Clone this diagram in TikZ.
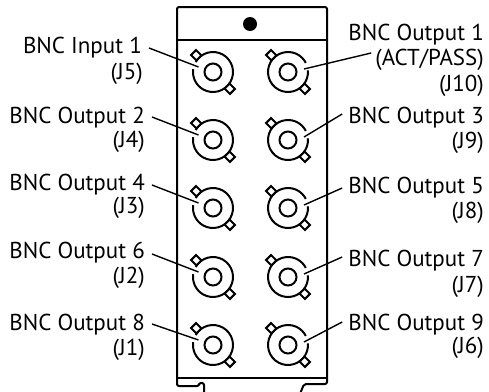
\documentclass[tikz,border=0pt]{standalone}
\usepackage{fontspec}
\setmainfont{PT Sans}
\usepackage{tikz}
\usetikzlibrary{calc}

\tikzset{
  panel/.style={line width=2pt, line join=round},
  conn/.style={line width=2pt},
  leader/.style={line width=1.4pt},
  lbl/.style={inner sep=0pt, font=\fontsize{23}{26}\selectfont},
  lbll/.style={lbl, anchor=base east},
  lblr/.style={lbl, anchor=base east},
  pics/bnc/.style={code={
    \draw[conn] (0,0) circle (8.5);
    \draw[conn] (#1:20) arc[start angle=#1, delta angle=338, radius=20];
    \draw[conn, fill=white, rotate=135] (20,-3.5) rectangle (27.5,3.5);
    \draw[conn, fill=white, rotate=-45] (20,-3.5) rectangle (27.5,3.5);
  }}
}

\begin{document}
\begin{tikzpicture}[x=1pt,y=-1pt]
    \useasboundingbox (0,0) rectangle (489,391);
    % Panel
    \draw[panel, rounded corners=2pt] (204,394) -- (204,383) -- (199,383) -- (199,386)
        -- (177,386) -- (177,7) -- (327,7) -- (327,384) -- (304,384) -- (300,394);
    \draw[panel] (177,40) -- (327,40);
    \draw[panel] (177,378) -- (327,378);
    \fill (250,24) circle (7);
    %
    % Connectors
    \coordinate (j5) at (213,72);
    \coordinate (j4) at (213,140);
    \coordinate (j3) at (213,208);
    \coordinate (j2) at (213,277);
    \coordinate (j1) at (213,345);
    \coordinate (j10) at (288,72);
    \coordinate (j9) at (288,140);
    \coordinate (j8) at (288,208);
    \coordinate (j7) at (288,277);
    \coordinate (j6) at (288,345);
    \pic at (j5) {bnc=210};
    \pic at (j4) {bnc=210};
    \pic at (j3) {bnc=210};
    \pic at (j2) {bnc=210};
    \pic at (j1) {bnc=210};
    \pic at (j10) {bnc=355};
    \pic at (j9) {bnc=355};
    \pic at (j8) {bnc=355};
    \pic at (j7) {bnc=355};
    \pic at (j6) {bnc=355};
    %
    % Labels, left column
    \node[lbll] (t5) at (142,53) {BNC Input 1};
    \node[lbll] (i5) at (143,79) {(J5)};
    \node[lbll] (t4) at (145,123) {BNC Output 2};
    \node[lbll] (i4) at (145,147) {(J4)};
    \node[lbll] (t3) at (145,190) {BNC Output 4};
    \node[lbll] (i3) at (145,213) {(J3)};
    \node[lbll] (t2) at (145,258) {BNC Output 6};
    \node[lbll] (i2) at (145,283) {(J2)};
    \node[lbll] (t1) at (145,330) {BNC Output 8};
    \node[lbll] (i1) at (145,355) {(J1)};
    % Labels, right column
    \node[lblr] (t10) at (484,40) {BNC Output 1};
    \node[lblr] (a10) at (484,65) {(ACT/PASS)};
    \node[lblr] (i10) at (484,91) {(J10)};
    \node[lblr] (t9) at (484,123) {BNC Output 3};
    \node[lblr] (i9) at (484,148) {(J9)};
    \node[lblr] (t8) at (484,193) {BNC Output 5};
    \node[lblr] (i8) at (484,218) {(J8)};
    \node[lblr] (t7) at (484,266) {BNC Output 7};
    \node[lblr] (i7) at (484,292) {(J7)};
    \node[lblr] (t6) at (484,330) {BNC Output 9};
    \node[lblr] (i6) at (484,353) {(J6)};
    %
    % Leader lines
    \draw[leader] ($(t5.base east)+(7,-5)$) -- ($(j5)+(-14.5,-5)$);
    \draw[leader] ($(t4.base east)+(7,-6)$) -- ($(j4)+(-14.5,-5)$);
    \draw[leader] ($(t3.base east)+(7,-5)$) -- ($(j3)+(-14.5,-5)$);
    \draw[leader] ($(t2.base east)+(7,-4)$) -- ($(j2)+(-14.5,-5)$);
    \draw[leader] ($(t1.base east)+(7,-6)$) -- ($(j1)+(-14.5,-5)$);
    \draw[leader] ($(j10)+(16,-3)$) -- ($(a10.base west)+(-4,-12)$);
    \draw[leader] ($(j9)+(16,-3)$) -- ($(t9.base west)+(-6,-9)$);
    \draw[leader] ($(j8)+(16,-3)$) -- ($(t8.base west)+(-6,-5)$);
    \draw[leader] ($(j7)+(16,-3)$) -- ($(t7.base west)+(-6,-9)$);
    \draw[leader] ($(j6)+(16,-3)$) -- ($(t6.base west)+(-6,-8)$);
\end{tikzpicture}
\end{document}
